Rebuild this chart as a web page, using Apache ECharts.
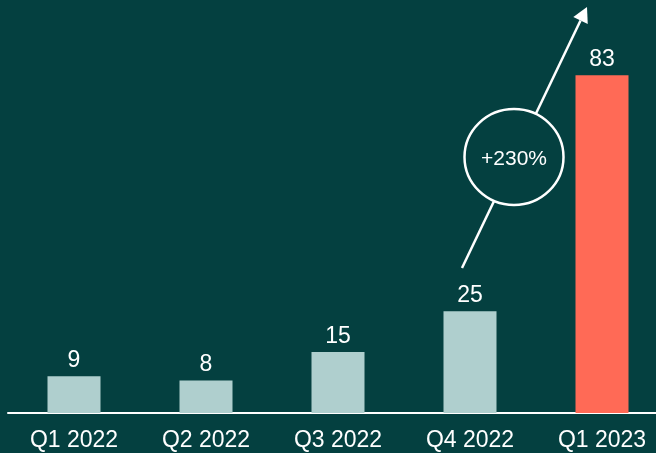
<!DOCTYPE html>
<html>
<head>
<meta charset="utf-8">
<script src="https://cdn.jsdelivr.net/npm/echarts@6/dist/echarts.min.js"></script>
<style>
html,body{margin:0;padding:0;background:#044040;}
#c{width:656px;height:453px;}
</style>
</head>
<body>
<div id="c"></div>
<script>
const categories = ['Q1 2022', 'Q2 2022', 'Q3 2022', 'Q4 2022', 'Q1 2023'];
const values = [9, 8, 15, 25, 83];
const highlightIndex = 4;
const growthLabel = '+230%';

const BG = '#044040';
const BAR = '#AFCFCE';
const HI = '#FF6A56';
const FONT = 'Liberation Sans, Arial, sans-serif';

const chart = echarts.init(document.getElementById('c'), null, {renderer: 'canvas'});

const seriesData = values.map((v, i) => ({
  value: v,
  itemStyle: {color: i === highlightIndex ? HI : BAR}
}));

// Arrow geometry (annotation)
const start = [462, 268], tip = [587, 7];
const dx = tip[0] - start[0], dy = tip[1] - start[1];
const len = Math.hypot(dx, dy);
const ux = dx / len, uy = dy / len;
const headL = 15, headW = 8;
const bx = tip[0] - ux * headL, by = tip[1] - uy * headL;
const px = -uy, py = ux;
const circleC = [514, 157];

chart.setOption({
  backgroundColor: BG,
  animation: false,
  grid: {left: 8, width: 660, top: 6, bottom: 40, containLabel: false, outerBoundsMode: 'none'},
  xAxis: {
    type: 'category',
    data: categories,
    axisLine: {show: true, lineStyle: {color: '#ffffff', width: 2}},
    axisTick: {show: false},
    axisLabel: {color: '#ffffff', fontSize: 23, fontFamily: FONT, margin: 16}
  },
  yAxis: {
    type: 'value',
    min: 0,
    max: 100,
    show: false,
    splitLine: {show: false}
  },
  series: [{
    type: 'bar',
    data: seriesData,
    barWidth: 53,
    label: {
      show: true,
      position: 'top',
      distance: 4,
      color: '#ffffff',
      fontSize: 23,
      fontFamily: FONT
    }
  }],
  graphic: [
    {
      type: 'line',
      z: 10,
      shape: {x1: start[0], y1: start[1], x2: bx, y2: by},
      style: {stroke: '#ffffff', lineWidth: 2.5}
    },
    {
      type: 'polygon',
      z: 11,
      shape: {points: [tip, [bx + px * headW, by + py * headW], [bx - px * headW, by - py * headW]]},
      style: {fill: '#ffffff'}
    },
    {
      type: 'ellipse',
      z: 12,
      shape: {cx: circleC[0], cy: circleC[1], rx: 49.5, ry: 48},
      style: {fill: BG, stroke: '#ffffff', lineWidth: 2.5}
    },
    {
      type: 'text',
      z: 13,
      x: circleC[0],
      y: circleC[1] + 2,
      style: {
        text: growthLabel,
        fill: '#ffffff',
        font: '21px ' + FONT,
        align: 'center',
        verticalAlign: 'middle'
      }
    }
  ]
});
</script>
</body>
</html>
